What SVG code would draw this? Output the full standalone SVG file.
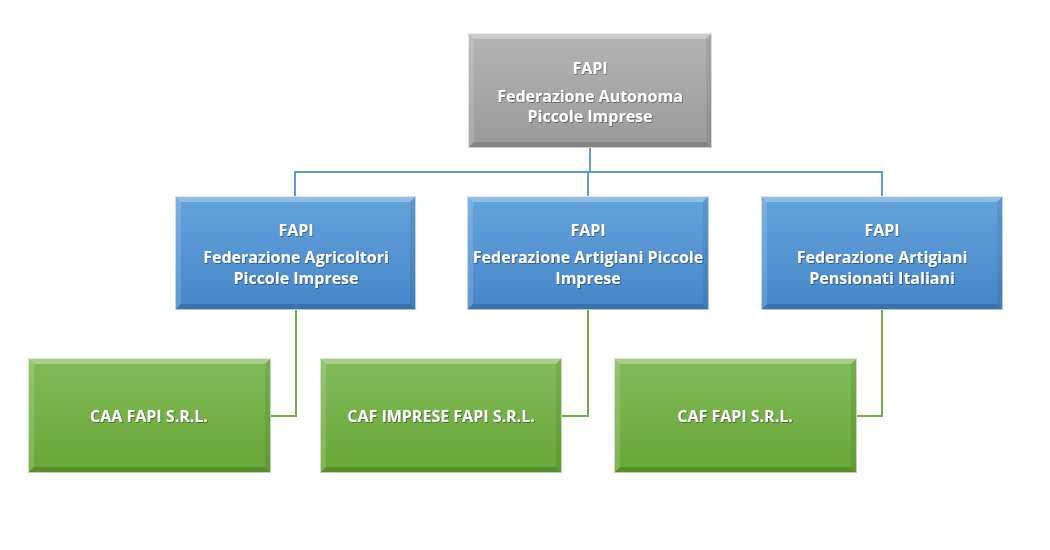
<svg xmlns="http://www.w3.org/2000/svg" width="1050" height="550" viewBox="0 0 1050 550">
<defs>
<linearGradient id="gGrey" x1="0" y1="0" x2="0" y2="1"><stop offset="0" stop-color="#b4b4b4"/><stop offset="1" stop-color="#9a9a9a"/></linearGradient>
<linearGradient id="gBlue" x1="0" y1="0" x2="0" y2="1"><stop offset="0" stop-color="#65a3dc"/><stop offset="1" stop-color="#4686c8"/></linearGradient>
<linearGradient id="gGreen" x1="0" y1="0" x2="0" y2="1"><stop offset="0" stop-color="#82bb5a"/><stop offset="1" stop-color="#68a636"/></linearGradient>
<filter id="ts" x="-10%" y="-30%" width="120%" height="160%"><feDropShadow dx="0.8" dy="0.8" stdDeviation="0.6" flood-color="#000" flood-opacity="0.45"/></filter>
</defs>
<style>
.t{font-family:"Open Sans","Liberation Sans",sans-serif;font-weight:bold;font-size:16px;fill:#fff;text-anchor:middle;filter:url(#ts)}
.blue{fill:none;stroke:#5b9bd5;stroke-width:2}
.green{fill:none;stroke:#70ad47;stroke-width:2}
.bt{fill:#fff;opacity:0.3}
.bl{fill:#fff;opacity:0.15}
.br{fill:#000;opacity:0.07}
.bb{fill:#000;opacity:0.15}
.edge{fill:none;stroke:#fff;stroke-opacity:0.6;stroke-width:1}
</style>
<rect width="1050" height="550" fill="#fff"/>
<g id="connectors">
<polyline class="blue" points="590,148 590,172"/>
<polyline class="blue" points="295,196 295,172 882,172 882,196"/>
<polyline class="blue" points="588,172 588,196"/>
<polyline class="green" points="296,310 296,416 271,416"/>
<polyline class="green" points="588,310 588,416 562,416"/>
<polyline class="green" points="882,310 882,416 857,416"/>
</g>
<g id="n-root">
<rect x="468" y="33" width="244" height="115" fill="url(#gGrey)"/>
<polygon class="bt" points="468,33 712,33 706,39 474,39"/>
<polygon class="bl" points="468,33 474,39 474,142 468,148"/>
<polygon class="br" points="712,33 712,148 706,142 706,39"/>
<polygon class="bb" points="468,148 474,142 706,142 712,148"/>
<rect class="edge" x="468.5" y="33.5" width="243" height="114"/>
<text class="t" x="590" y="74">FAPI</text>
<text class="t" x="590" y="102">Federazione Autonoma</text>
<text class="t" x="590" y="122">Piccole Imprese</text>
</g>
<g id="n-agri">
<rect x="175" y="196" width="241" height="114" fill="url(#gBlue)"/>
<polygon class="bt" points="175,196 416,196 410,202 181,202"/>
<polygon class="bl" points="175,196 181,202 181,304 175,310"/>
<polygon class="br" points="416,196 416,310 410,304 410,202"/>
<polygon class="bb" points="175,310 181,304 410,304 416,310"/>
<rect class="edge" x="175.5" y="196.5" width="240" height="113"/>
<text class="t" x="296" y="236">FAPI</text>
<text class="t" x="296" y="263">Federazione Agricoltori</text>
<text class="t" x="296" y="284">Piccole Imprese</text>
</g>
<g id="n-arti">
<rect x="467" y="196" width="242" height="114" fill="url(#gBlue)"/>
<polygon class="bt" points="467,196 709,196 703,202 473,202"/>
<polygon class="bl" points="467,196 473,202 473,304 467,310"/>
<polygon class="br" points="709,196 709,310 703,304 703,202"/>
<polygon class="bb" points="467,310 473,304 703,304 709,310"/>
<rect class="edge" x="467.5" y="196.5" width="241" height="113"/>
<text class="t" x="588" y="236">FAPI</text>
<text class="t" x="588" y="263">Federazione Artigiani Piccole</text>
<text class="t" x="588" y="284">Imprese</text>
</g>
<g id="n-pens">
<rect x="761" y="196" width="242" height="114" fill="url(#gBlue)"/>
<polygon class="bt" points="761,196 1003,196 997,202 767,202"/>
<polygon class="bl" points="761,196 767,202 767,304 761,310"/>
<polygon class="br" points="1003,196 1003,310 997,304 997,202"/>
<polygon class="bb" points="761,310 767,304 997,304 1003,310"/>
<rect class="edge" x="761.5" y="196.5" width="241" height="113"/>
<text class="t" x="882" y="236">FAPI</text>
<text class="t" x="882" y="263">Federazione Artigiani</text>
<text class="t" x="882" y="284">Pensionati Italiani</text>
</g>
<g id="n-caa">
<rect x="28" y="358" width="243" height="115" fill="url(#gGreen)"/>
<polygon class="bt" points="28,358 271,358 265,364 34,364"/>
<polygon class="bl" points="28,358 34,364 34,467 28,473"/>
<polygon class="br" points="271,358 271,473 265,467 265,364"/>
<polygon class="bb" points="28,473 34,467 265,467 271,473"/>
<rect class="edge" x="28.5" y="358.5" width="242" height="114"/>
<text class="t" x="149" y="422">CAA FAPI S.R.L.</text>
</g>
<g id="n-cafimp">
<rect x="320" y="358" width="242" height="115" fill="url(#gGreen)"/>
<polygon class="bt" points="320,358 562,358 556,364 326,364"/>
<polygon class="bl" points="320,358 326,364 326,467 320,473"/>
<polygon class="br" points="562,358 562,473 556,467 556,364"/>
<polygon class="bb" points="320,473 326,467 556,467 562,473"/>
<rect class="edge" x="320.5" y="358.5" width="241" height="114"/>
<text class="t" x="441" y="422">CAF IMPRESE FAPI S.R.L.</text>
</g>
<g id="n-caf">
<rect x="614" y="358" width="243" height="115" fill="url(#gGreen)"/>
<polygon class="bt" points="614,358 857,358 851,364 620,364"/>
<polygon class="bl" points="614,358 620,364 620,467 614,473"/>
<polygon class="br" points="857,358 857,473 851,467 851,364"/>
<polygon class="bb" points="614,473 620,467 851,467 857,473"/>
<rect class="edge" x="614.5" y="358.5" width="242" height="114"/>
<text class="t" x="735" y="422">CAF FAPI S.R.L.</text>
</g>
</svg>
